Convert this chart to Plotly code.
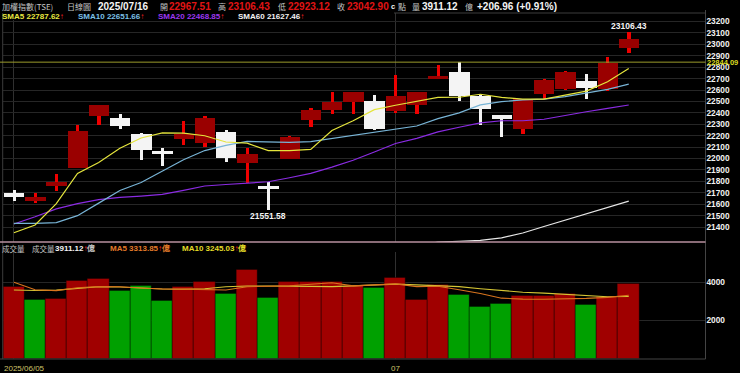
import plotly.graph_objects as go

W, H = 740, 373

# ---------------- data ----------------
dates = ["2025/06/05", "2025/06/06", "2025/06/09", "2025/06/10", "2025/06/11", "2025/06/12",
         "2025/06/13", "2025/06/16", "2025/06/17", "2025/06/18", "2025/06/19", "2025/06/20",
         "2025/06/23", "2025/06/24", "2025/06/25", "2025/06/26", "2025/06/27", "2025/06/30",
         "2025/07/01", "2025/07/02", "2025/07/03", "2025/07/04", "2025/07/07", "2025/07/08",
         "2025/07/09", "2025/07/10", "2025/07/11", "2025/07/14", "2025/07/15", "2025/07/16"]
idx = list(range(len(dates)))

opens = [21698, 21631, 21762, 21920, 22375, 22358, 22212, 22066, 22171, 22139,
         22235, 21959, 21760, 21999, 22338, 22425, 22498, 22507, 22419, 22469,
         22699, 22755, 22548, 22379, 22256, 22565, 22606, 22679, 22609, 22967.51]
highs = [21725, 21700, 21865, 22294, 22472, 22388, 22226, 22090, 22329, 22373,
         22250, 22090, 21792, 22198, 22445, 22585, 22584, 22557, 22732, 22585,
         22819, 22844.09, 22563, 22379, 22525, 22697, 22769, 22738, 22887, 23106.43]
lows = [21630, 21608, 21716, 21918, 22294, 22256, 21987, 21935, 22119, 22104,
        21973, 21783, 21551.58, 21995, 22279, 22390, 22390, 22250, 22396, 22390,
        22695, 22504, 22294, 22186, 22212, 22521, 22600, 22521, 22592, 22923.12]
closes = [21664, 21666, 21797, 22241, 22469, 22288, 22075, 22040, 22212, 22353,
          22002, 22037, 21731, 22186, 22425, 22493, 22580, 22256, 22548, 22580,
          22723, 22550, 22431, 22349, 22519, 22688, 22755, 22615, 22835.94, 23042.90]

volumes = [3724, 3065, 3100, 4036, 4140, 3530, 3790, 3013, 3756, 3984,
           3392, 4639, 3169, 4016, 4000, 3984, 3792, 3672, 4224, 3065,
           3844, 3341, 2701, 2857, 3256, 3273, 3392, 2822, 3205, 3911.12]
vol_up = [1, 0, 1, 1, 1, 0, 0, 0, 1, 1, 0, 1, 0, 1, 1, 1, 1, 0, 1, 1,
          1, 0, 0, 0, 1, 1, 1, 0, 1, 1]

sma5 = [21351, 21418, 21606, 21870, 21965, 22090, 22180, 22225, 22222, 22200,
        22145, 22135, 22069, 22069, 22080, 22245, 22331, 22428, 22467, 22498,
        22535, 22537, 22563, 22535, 22521, 22521, 22556, 22590, 22672, 22787.62]
sma10 = [21433, 21433, 21440, 21500, 21610, 21720, 21790, 21890, 21990, 22070,
         22115, 22150, 22148, 22142, 22148, 22175, 22205, 22233, 22262, 22285,
         22350, 22400, 22470, 22498, 22513, 22521, 22542, 22577, 22606, 22651.66]
sma20 = [21427, 21490, 21560, 21605, 21640, 21660, 21672, 21686, 21722, 21760,
         21773, 21788, 21797, 21832, 21870, 21925, 21985, 22058, 22132, 22177,
         22233, 22274, 22312, 22331, 22331, 22344, 22380, 22410, 22440, 22468.85]
sma60 = [None] * 19 + [21240, 21268, 21276, 21283, 21306, 21348, 21405, 21462,
                       21519, 21576, 21627.46]

vma5 = [3984, 3600, 3550, 3700, 3760, 3756, 3690, 3640, 3630, 3600,
        3585, 3756, 3780, 3800, 3880, 3960, 3800, 3850, 3900, 3760,
        3780, 3600, 3400, 3160, 3110, 3100, 3110, 3150, 3200, 3313.85]
vma10 = [3584, 3560, 3580, 3680, 3750, 3740, 3680, 3640, 3620, 3650,
         3750, 3790, 3790, 3790, 3770, 3760, 3800, 3850, 3890, 3850,
         3800, 3760, 3650, 3560, 3470, 3420, 3370, 3300, 3230, 3245.03]

price_ticks = [21400, 21500, 21600, 21700, 21800, 21900, 22000, 22100, 22200, 22300,
               22400, 22500, 22600, 22700, 22800, 22900, 23000, 23100, 23200]
vol_ticks = [2000, 4000]
date_tick_idx = [0, 18]
date_tick_text = ["2025/06/05", "07"]
prev_high = 22844.09

# ---------------- helpers ----------------
def px(x):
    return x / W


def py(y):
    return 1 - y / H


LAT = "Liberation Sans"
CJK = "Noto Sans CJK TC"
RED_TXT = "#e01414"
GRAY_TXT = "#c4c4c4"

up = [c >= o for o, c in zip(opens, closes)]
body_base = [min(o, c) for o, c in zip(opens, closes)]
body_h = [abs(c - o) for o, c in zip(opens, closes)]
wick_h = [h - l for h, l in zip(highs, lows)]
body_col = ["#9a0000" if u else "#f4f4f4" for u in up]
wick_col = ["#ee0000" if u else "#f4f4f4" for u in up]
vol_col = ["#a00000" if u else "#00a000" for u in vol_up]

fig = go.Figure()

# candles: wicks then bodies
fig.add_trace(go.Bar(x=idx, y=wick_h, base=lows, width=0.15, marker=dict(color=wick_col, line=dict(width=0)),
                     xaxis="x", yaxis="y", hoverinfo="skip"))
fig.add_trace(go.Bar(x=idx, y=body_h, base=body_base, width=0.96, marker=dict(color=body_col, line=dict(width=0)),
                     xaxis="x", yaxis="y", hoverinfo="skip"))

# moving averages
for series, col in [(sma60, "#e6e6e6"), (sma20, "#8a2be2"), (sma10, "#78b4d6"), (sma5, "#e4e43c")]:
    fig.add_trace(go.Scatter(x=idx, y=series, mode="lines", line=dict(color=col, width=1.2),
                             xaxis="x", yaxis="y", hoverinfo="skip", connectgaps=False))

# volume
fig.add_trace(go.Bar(x=idx, y=volumes, width=1.0,
                     marker=dict(color=vol_col, line=dict(color="rgba(0,0,0,0.35)", width=1)),
                     xaxis="x2", yaxis="y2", hoverinfo="skip"))
fig.add_trace(go.Scatter(x=idx, y=vma10, mode="lines", line=dict(color="#d4c434", width=1.1),
                         xaxis="x2", yaxis="y2", hoverinfo="skip"))
fig.add_trace(go.Scatter(x=idx, y=vma5, mode="lines", line=dict(color="#d8741e", width=1.1),
                         xaxis="x2", yaxis="y2", hoverinfo="skip"))

X0, X1 = 2.7, 705.5
xr = [-0.528, 32.62]
grid = "#262626"
tickfont = dict(family=LAT, size=8.3, color="#f2f2f2")

fig.update_layout(
    width=W, height=H, margin=dict(l=0, r=0, t=0, b=0),
    paper_bgcolor="black", plot_bgcolor="black", showlegend=False, barmode="overlay", bargap=0,
    xaxis=dict(domain=[px(X0), px(X1)], range=xr, anchor="y", tickvals=date_tick_idx,
               showticklabels=False, showgrid=True, gridcolor="#303030", zeroline=False, ticks=""),
    yaxis=dict(domain=[py(242), py(13)], range=[21269.5, 23274.4], anchor="x", side="right",
               tickvals=price_ticks, ticktext=[f"<b>{v}</b>" for v in price_ticks], tickfont=tickfont,
               showgrid=True, gridcolor=grid, zeroline=False, ticks=""),
    xaxis2=dict(domain=[px(X0), px(X1)], range=xr, anchor="y2", tickvals=date_tick_idx,
                showticklabels=False, showgrid=True, gridcolor="#303030", zeroline=False, ticks=""),
    yaxis2=dict(domain=[py(359), py(252)], range=[0, 5558.4], anchor="x2", side="right",
                tickvals=vol_ticks, ticktext=[f"<b>{v}</b>" for v in vol_ticks], tickfont=tickfont,
                showgrid=True, gridcolor=grid, zeroline=False, ticks=""),
)

shapes = []
border = "#3c3c3c"
def hline(x0, x1, y, color, w=1):
    shapes.append(dict(type="line", xref="paper", yref="paper", x0=px(x0), x1=px(x1), y0=py(y), y1=py(y),
                       line=dict(color=color, width=w)))

def vline(x, y0, y1, color, w=1):
    shapes.append(dict(type="line", xref="paper", yref="paper", x0=px(x), x1=px(x), y0=py(y0), y1=py(y1),
                       line=dict(color=color, width=w)))

# cover the top of gridlines behind the SMA legend row
shapes.append(dict(type="rect", xref="paper", yref="paper", x0=0, x1=px(394), y0=py(20), y1=py(10),
                   fillcolor="black", line=dict(width=0)))
hline(394, X1, 13, border)
vline(X0, 13, 359, border)
vline(X1, 10, 359, "#444444")
hline(0, X1, 359, "#444444")
hline(0, X1, 242, "#b8909f", 1.5)
# previous high line
shapes.append(dict(type="line", xref="paper", yref="y", x0=0, x1=px(X1), y0=prev_high, y1=prev_high,
                   line=dict(color="#9a9a2a", width=1)))
fig.update_layout(shapes=shapes)

ann = []
def text(x, y, s, color, size, family=LAT, bold=True, anchor="left"):
    t = f"<b>{s}</b>" if bold else s
    ann.append(dict(x=px(x), y=py(y), xref="paper", yref="paper", text=t, showarrow=False,
                    xanchor=anchor, yanchor="middle", font=dict(family=family, size=size, color=color),
                    borderpad=0))

# header line 1
y1 = 6
NUM = 10
text(1, y1, "加權指數(TSE)", GRAY_TXT, 8, CJK, bold=False)
text(66, y1, "日線圖", GRAY_TXT, 8, CJK, bold=False)
text(97, y1, dates[-1], "#f4f4f4", NUM)
text(159, y1, "開", GRAY_TXT, 8, CJK, bold=False)
text(168, y1, f"{opens[-1]:.2f}", RED_TXT, NUM)
text(217, y1, "高", GRAY_TXT, 8, CJK, bold=False)
text(227, y1, f"{highs[-1]:.2f}", RED_TXT, NUM)
text(277, y1, "低", GRAY_TXT, 8, CJK, bold=False)
text(287, y1, f"{lows[-1]:.2f}", RED_TXT, NUM)
text(336, y1, "收", GRAY_TXT, 8, CJK, bold=False)
text(346, y1, f"{closes[-1]:.2f}", RED_TXT, NUM)
text(390, y1 + 0.5, "c", "#f4f4f4", 7.5)
text(397, y1, "點", GRAY_TXT, 8, CJK, bold=False)
text(411, y1, "量", GRAY_TXT, 8, CJK, bold=False)
text(421, y1, f"{volumes[-1]:.2f}", "#f4f4f4", NUM)
text(464, y1, "億", GRAY_TXT, 8, CJK, bold=False)
chg = closes[-1] - closes[-2]
text(476, y1, f"+{chg:.2f} (+{chg / closes[-2] * 100:.2f}%)", "#f4f4f4", NUM)

# header line 2 (SMA legend)
y2 = 16.5
arrow = "<span style='color:#ff2020'>↑</span>"
for x, lab, val, col in [(1, "SMA5", sma5[-1], "#e8e840"), (77, "SMA10", sma10[-1], "#7cc0e6"),
                         (157, "SMA20", sma20[-1], "#9b38f0"), (237, "SMA60", sma60[-1], "#f2f2f2")]:
    text(x, y2, f"{lab} {val:.2f}{arrow}", col, 8)

# volume legend row
y3 = 248
text(1, y3, "成交量", GRAY_TXT, 7.5, CJK, bold=False)
text(31, y3, "成交量", GRAY_TXT, 7.5, CJK, bold=False)
text(54, y3, f"{volumes[-1]:.2f}{arrow}<span style='color:#c4c4c4'>億</span>", "#f4f4f4", 8)
text(109, y3, f"MA5 {vma5[-1]:.2f}{arrow}億", "#e27a2a", 8)
text(181, y3, f"MA10 {vma10[-1]:.2f}{arrow}億", "#e4dc28", 8)

# date labels
text(3, 368, date_tick_text[0], "#cfc46a", 8, bold=False)
ann.append(dict(x=date_tick_idx[1], y=py(368), xref="x2", yref="paper", text=date_tick_text[1], showarrow=False,
                xanchor="center", yanchor="middle", font=dict(family=LAT, size=8, color="#cfc46a")))

# prev high label on right axis
ann.append(dict(x=px(706), y=prev_high, xref="paper", yref="y", text=f"<b>{prev_high:.2f}</b>", showarrow=False,
                xanchor="left", yanchor="middle", font=dict(family=LAT, size=7.5, color="#dada22"), borderpad=0))

# high / low labels
ann.append(dict(x=idx[-1], y=highs[-1], xref="x", yref="y", text=f"<b>{highs[-1]:.2f}</b>", showarrow=False,
                xanchor="center", yanchor="middle", yshift=6, font=dict(family=LAT, size=8.5, color="#f4f4f4")))
ann.append(dict(x=12, y=lows[12], xref="x", yref="y", text=f"<b>{lows[12]:.2f}</b>", showarrow=False,
                xanchor="center", yanchor="middle", yshift=-6, font=dict(family=LAT, size=8.5, color="#f4f4f4")))

fig.update_layout(annotations=ann)
fig.write_html("out.html")
